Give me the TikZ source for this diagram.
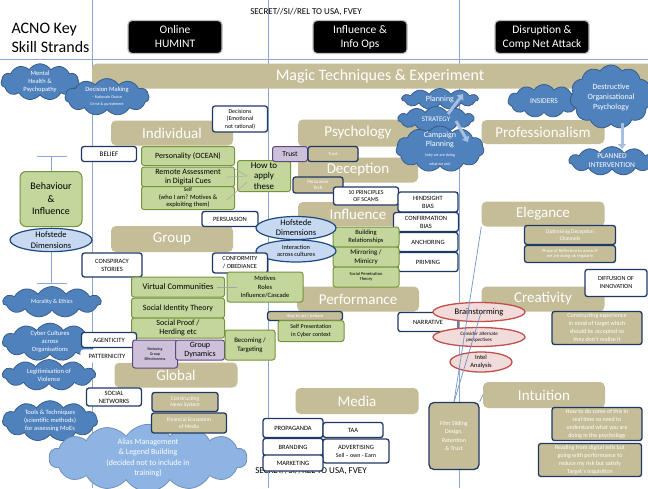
\documentclass[tikz,border=0pt]{standalone}
\usepackage{fontspec}
\setmainfont{Carlito}
\usetikzlibrary{shapes.symbols,shapes.geometric,arrows.meta}

\definecolor{tanfill}{HTML}{C4BD97}
\definecolor{navy}{HTML}{1F3864}
\definecolor{greenfill}{HTML}{C3D69B}
\definecolor{greenedge}{HTML}{77933C}
\definecolor{purplefill}{HTML}{CCC0DA}
\definecolor{purpleedge}{HTML}{5F497A}
\definecolor{cloudblue}{HTML}{4F81BD}
\definecolor{cloudedge}{HTML}{385D8A}
\definecolor{aliasblue}{HTML}{8EB4E3}
\definecolor{ovalfill}{HTML}{C6D9F1}
\definecolor{ovaledge}{HTML}{1F497D}
\definecolor{pinkfill}{HTML}{F2DCDB}
\definecolor{rededge}{HTML}{C0504D}
\definecolor{gridblue}{HTML}{8EA9CF}
\definecolor{linkblue}{HTML}{6F93C8}
\definecolor{arrowblue}{HTML}{A7C0E0}

\newcommand{\fsz}[2]{\fontsize{#1}{#2}\selectfont}

\tikzset{
  tanhead/.style={fill=tanfill, rounded corners=5pt, text=white, font=\fsz{15}{16}, inner sep=0pt, minimum width=122pt, minimum height=25pt},
  blackhead/.style={fill=black, draw=black!25, line width=1.2pt, rounded corners=4pt, text=white, align=center, font=\fsz{11.5}{14}, minimum width=94pt, minimum height=33pt, inner sep=0pt},
  whitebox/.style={draw=navy, line width=1.3pt, fill=white, rounded corners=2.5pt, align=center, font=\fsz{6.5}{8}, inner sep=0pt},
  greenbox/.style={draw=greenedge, line width=1pt, fill=greenfill, rounded corners=2.5pt, align=center, font=\fsz{8}{9.5}, inner sep=0pt},
  purplebox/.style={draw=purpleedge, line width=1pt, fill=purplefill, rounded corners=2.5pt, align=center, inner sep=0pt},
  tanbox/.style={draw=navy, line width=1.3pt, fill=tanfill, text=white, rounded corners=2.5pt, align=center, font=\fsz{5}{6}, inner sep=0pt},
  bluecloud/.style={cloud, cloud puffs=11, cloud puff arc=115, cloud ignores aspect, fill=cloudblue, draw=cloudedge, line width=0.8pt, text=white, align=center, font=\fsz{6.5}{8}, inner sep=0pt},
  blueoval/.style={ellipse, draw=ovaledge, line width=1.2pt, fill=ovalfill, align=center, inner sep=0pt},
  redoval/.style={ellipse, draw=rededge, line width=1.3pt, fill=pinkfill, align=center, inner sep=0pt},
  gridline/.style={draw=gridblue, line width=0.6pt},
  link/.style={draw=gray!70, line width=0.5pt},
  bluelink/.style={draw=linkblue, line width=0.7pt},
  fatarrow/.style={draw=arrowblue, line width=3pt, -{Triangle[length=5pt,width=8pt]}}
}

\begin{document}
\begin{tikzpicture}[x=1pt, y=-1pt]
    \clip (0,0) rectangle (648,488);
    \fill[white] (0,0) rectangle (648,488);

    % Grid
    \draw[gridline] (0,59) -- (648,59);
    \draw[gridline] (92,0) -- (92,488);
    \draw[gridline] (268,0) -- (268,488);
    \draw[gridline] (459,0) -- (459,488);

    \coordinate (beamtop) at (51,156);
    \coordinate (beambot) at (51,283);
    \draw[gridline] (beamtop) -- (beambot);
    \draw[gridline] ([xshift=-14pt]beamtop) -- ([xshift=16pt]beamtop);
    \draw[gridline] ([xshift=-14pt]beambot) -- ([xshift=16pt]beambot);

    % Headings
    \node[anchor=west, align=left, font=\fsz{16}{19}] (title) at (8,38) {ACNO Key\\Skill Strands};
    \node[font=\fsz{9}{10}] (classtop) at (306,12) {SECRET//SI//REL TO USA, FVEY};
    \node[font=\fsz{9}{10}] (classbot) at (311,471) {SECRET//SI//REL TO USA, FVEY};

    \node[blackhead] (humint) at (175,37) {Online\\HUMINT};
    \node[blackhead] (infoops) at (360,37) {Influence \&\\Info Ops};
    \node[blackhead] (cna) at (542,37) {Disruption \&\\Comp Net Attack};

    \node[tanhead, minimum width=576pt, font=\fsz{16}{17}] (magic) at (380,76) {Magic Techniques \& Experiment};

    \node[tanhead] (individual) at (172,133) {Individual};
    \node[tanhead, minimum height=26pt] (group) at (172,239) {Group};
    \node[tanhead, minimum width=123pt] (global) at (176,375) {Global};
    \node[tanhead, minimum width=120pt, minimum height=27pt] (psychology) at (358,133) {Psychology};
    \node[tanhead, minimum width=120pt] (deception) at (358,170) {Deception};
    \node[tanhead, minimum width=120pt, minimum height=24pt] (influence) at (358,214) {Influence};
    \node[tanhead] (performance) at (358,299) {Performance};
    \node[tanhead, minimum width=123pt, minimum height=26pt] (media) at (357,401) {Media};
    \node[tanhead, minimum width=123pt, minimum height=24pt] (professionalism) at (543,132) {Professionalism};
    \node[tanhead, minimum width=123pt] (elegance) at (543,214) {Elegance};
    \node[tanhead, minimum width=123pt] (creativity) at (543,299) {Creativity};
    \node[tanhead, minimum height=26pt] (intuition) at (544,395) {Intuition};

    % Left column
    \node[bluecloud, minimum width=78pt, minimum height=33pt] (mental) at (40,82) {Mental\\Health \&\\Psychopathy};
    \node[bluecloud, minimum width=84pt, minimum height=37pt, font=\fsz{6.5}{7}] (decision) at (107,97) {Decision Making\\\fsz{4}{5}– Rationale Choice\\\fsz{4}{5}Crime \& punishment};
    \node[greenbox, minimum width=62pt, minimum height=55pt, rounded corners=6pt, font=\fsz{10}{12.5}] (behaviour) at (51,199) {Behaviour\\\&\\Influence};
    \node[blueoval, minimum width=82pt, minimum height=23pt, font=\fsz{8.5}{10.5}] (hofleft) at (51,240) {Hofstede\\Dimensions};
    \node[bluecloud, minimum width=98pt, minimum height=31pt, font=\fsz{6}{7}] (morality) at (52,302) {Morality \& Ethics};
    \node[bluecloud, minimum width=95pt, minimum height=34pt] (cyber) at (50,342) {Cyber Cultures\\across\\Organisations};
    \node[bluecloud, minimum width=93pt, minimum height=31pt] (violence) at (49,375) {Legitimisation of\\Violence};
    \node[bluecloud, minimum width=95pt, minimum height=35pt] (tools) at (50,421) {Tools \& Techniques\\(scientific methods)\\for assessing MoEs};
    \node[bluecloud, cloud puffs=14, fill=aliasblue, draw=aliasblue!80!black, minimum width=198pt, minimum height=48pt, font=\fsz{8}{10.5}] (alias) at (148,458) {Alias Management\\\& Legend Building\\(decided not to include in\\training)};

    % Individual
    \node[whitebox, minimum width=55pt, minimum height=15pt, font=\fsz{7}{8}] (belief) at (109,154) {BELIEF};
    \node[whitebox, minimum width=55pt, minimum height=26pt, font=\fsz{6}{7.5}] (decisions) at (240,119) {Decisions\\(Emotional\\not rational)};
    \node[greenbox] (personality) at (188,156) [minimum width=93pt, minimum height=19pt] {Personality (OCEAN)};
    \node[greenbox, minimum width=93pt, minimum height=20pt] (remote) at (188,177) {Remote Assessment\\in Digital Cues};
    \node[greenbox, minimum width=93pt, minimum height=23pt, font=\fsz{6.5}{7.5}] (self) at (188,198) {\fsz{5.5}{6.5}Self\\(who I am? Motives \&\\exploiting them)};
    \node[greenbox, minimum width=53pt, minimum height=31pt, font=\fsz{9}{10.5}] (howto) at (264,176) {How to\\apply\\these};
    \node[whitebox, minimum width=56pt, minimum height=15pt] (persuasion) at (230,219) {PERSUASION};

    % Psychology, deception, influence
    \node[purplebox, minimum width=35pt, minimum height=15pt, font=\fsz{7.5}{8}] (trustp) at (290,154) {Trust};
    \node[tanbox, minimum width=50pt, minimum height=15pt, font=\fsz{4.5}{5}] (trustt) at (333,154) {Trust};
    \node[tanbox, minimum width=50pt, minimum height=16pt] (persuasive) at (318,185) {Persuasive\\Tech};
    \node[whitebox, minimum width=65pt, minimum height=18pt, font=\fsz{6}{7.5}] (scams) at (366,196) {10 PRINCIPLES\\OF SCAMS};
    \node[whitebox, minimum width=60pt, minimum height=20pt] (hindsight) at (428,202) {HINDSIGHT\\BIAS};
    \node[whitebox, minimum width=65pt, minimum height=19pt] (confirmation) at (426,222) {CONFIRMATION\\BIAS};
    \node[whitebox, minimum width=60pt, minimum height=19pt] (anchoring) at (428,242) {ANCHORING};
    \node[whitebox, minimum width=60pt, minimum height=19pt] (priming) at (428,262) {PRIMING};
    \node[greenbox, minimum width=66pt, minimum height=20pt, font=\fsz{6.5}{7.5}] (building) at (366,237) {Building\\Relationships};
    \node[greenbox, minimum width=66pt, minimum height=20pt, font=\fsz{7}{8.5}] (mirroring) at (366,257) {Mirroring /\\Mimicry};
    \node[greenbox, minimum width=66pt, minimum height=20pt, font=\fsz{4.5}{5.5}] (penetration) at (366,277) {Social Penetration\\Theory};
    \node[blueoval, minimum width=80pt, minimum height=23pt, font=\fsz{8.5}{10}] (hofcentre) at (296,228) {Hofstede\\Dimensions};
    \node[blueoval, minimum width=80pt, minimum height=22pt, font=\fsz{6.3}{7.5}] (interaction) at (296,251) {Interaction\\across cultures};

    % Group
    \node[whitebox, minimum width=60pt, minimum height=24pt] (conspiracy) at (112,265) {CONSPIRACY\\STORIES};
    \node[whitebox, minimum width=55pt, minimum height=20pt, font=\fsz{6.3}{8}] (conformity) at (240,263) {CONFORMITY\\/ OBEDIANCE};
    \node[greenbox, minimum width=76pt, minimum height=30pt, font=\fsz{6.5}{8.5}] (motives) at (265,287) {Motives\\Roles\\Influence/Cascade};
    \node[greenbox, minimum width=93pt, minimum height=20pt, font=\fsz{8.5}{9.5}] (virtual) at (178,287) {Virtual Communities};
    \node[greenbox, minimum width=93pt, minimum height=20pt] (identity) at (178,308) {Social Identity Theory};
    \node[greenbox, minimum width=93pt, minimum height=20pt, font=\fsz{8}{9}] (proof) at (178,328) {Social Proof /\\Herding etc};
    \node[whitebox, minimum width=55pt, minimum height=15pt] (agenticity) at (109,340) {AGENTICITY};
    \node[whitebox, draw=white, minimum width=52pt, minimum height=12pt] (patternicity) at (107,356) {PATTERNICITY};
    \node[purplebox, minimum width=45pt, minimum height=28pt, font=\fsz{4}{5}] (reducing) at (155,354) {Reducing\\Group\\Effectiveness};
    \node[purplebox, minimum width=49pt, minimum height=20pt, font=\fsz{8}{9.5}] (dynamics) at (200,350) {Group\\Dynamics};
    \node[greenbox, minimum width=50pt, minimum height=30pt, font=\fsz{6.8}{8.5}] (becoming) at (250,345) {Becoming /\\Targeting};
    \node[tanbox, minimum width=75pt, minimum height=9pt, font=\fsz{4.5}{5}] (actbehave) at (305,316) {How to act / behave};
    \node[greenbox, minimum width=66pt, minimum height=21pt, font=\fsz{6}{7.5}] (selfpres) at (311,331) {Self Presentation\\in Cyber context};

    % Global
    \node[whitebox, minimum width=55pt, minimum height=18pt] (networks) at (114,397) {SOCIAL\\NETWORKS};
    \node[tanbox, minimum width=66pt, minimum height=19pt, font=\fsz{5.5}{6.5}] (news) at (185,402) {Constructing\\News System};
    \node[tanbox, minimum width=75pt, minimum height=20pt, font=\fsz{5.5}{6.5}] (ecosystem) at (189,423) {Financial Ecosystem\\of Media};

    % Media
    \node[whitebox, minimum width=60pt, minimum height=19pt] (propaganda) at (293,428) {PROPAGANDA};
    \node[whitebox, minimum width=60pt, minimum height=15pt] (taa) at (353,430) {TAA};
    \node[whitebox, minimum width=60pt, minimum height=17pt] (branding) at (293,447) {BRANDING};
    \node[whitebox, minimum width=66pt, minimum height=24pt] (advertising) at (356,451) {ADVERTISING\\\fsz{6}{7}Sell – own - Earn};
    \node[whitebox, minimum width=60pt, minimum height=16pt] (marketing) at (293,463) {MARKETING};

    % Disruption column
    \node[bluecloud, minimum width=76pt, minimum height=21pt, font=\fsz{8}{9}] (planning) at (440,99) {Planning};
    \node[bluecloud, minimum width=76pt, minimum height=25pt, font=\fsz{7}{8}] (strategy) at (436,119) {STRATEGY};
    \node[bluecloud, inner sep=-5pt, minimum width=88pt, minimum height=46pt, font=\fsz{8}{9.5}] (campaign) at (440,149) {Campaign\\Planning\\\fsz{4}{5}(why we are doing\\\fsz{4}{5}what we are)};
    \node[bluecloud, minimum width=72pt, minimum height=33pt, font=\fsz{7.5}{8.5}] (insiders) at (544,101) {INSIDERS};
    \node[bluecloud, minimum width=82pt, minimum height=64pt, font=\fsz{8}{10}] (destructive) at (611,97) {Destructive\\Organisational\\Psychology};
    \node[bluecloud, minimum width=86pt, minimum height=28pt, font=\fsz{7.5}{9}] (planned) at (612,161) {PLANNED\\INTERVENTION};

    \node[tanbox, minimum width=91pt, minimum height=19pt, font=\fsz{5.5}{6.5}] (optimising) at (570,235) {Optimising Deception\\Channels};
    \node[tanbox, minimum width=91pt, minimum height=17pt, font=\fsz{4.5}{5.5}] (reflection) at (570,254) {Phase of Reflection to assess if\\we are doing ok regularly};
    \node[whitebox, minimum width=62pt, minimum height=27pt, font=\fsz{6.2}{8}] (diffusion) at (616,283) {DIFFUSION OF\\INNOVATION};
    \node[whitebox, minimum width=60pt, minimum height=19pt] (narrative) at (428,322) {NARRATIVE};
    \node[tanbox, minimum width=90pt, minimum height=33pt, font=\fsz{6}{8}] (constructing) at (597,328) {Constructing experience\\in mind of target which\\should be accepted so\\they don't realise it};
    \node[tanbox, minimum width=90pt, minimum height=33pt, font=\fsz{6}{8}] (realtime) at (597,424) {How to do some of this in\\real time so need to\\understand what you are\\doing in the psychology};
    \node[tanbox, minimum width=103pt, minimum height=33pt, font=\fsz{6}{8}] (reading) at (590,460) {Reading from digital tells but\\going with performance to\\reduce my risk but satisfy\\Target's inquisition};
    \node[tanbox, minimum width=50pt, minimum height=67pt, rounded corners=5pt, font=\fsz{6}{8.5}] (film) at (454,436) {Film Sliding\\Design,\\Retention\\\& Trust};

    \node[redoval, minimum width=92pt, minimum height=19pt, font=\fsz{8.5}{9}] (brainstorm) at (479,312) {Brainstorming};
    \node[redoval, minimum width=92pt, minimum height=19pt, font=\fsz{5}{6}] (alternate) at (479,337) {Consider alternate\\perspectives};
    \node[redoval, minimum width=62pt, minimum height=20pt, font=\fsz{6.5}{8}] (intel) at (481,362) {Intel\\Analysis};

    % Draw the edges
    \draw[link] ([xshift=-5pt]personality.south east) -- ([xshift=10pt]howto.west);
    \draw[link] ([xshift=-8pt]remote.east) -- ([xshift=10pt]howto.west);
    \draw[link] ([xshift=-8pt,yshift=-2pt]self.east) -- ([xshift=10pt,yshift=-6pt]howto.west);
    \draw[link] ([xshift=-8pt]virtual.east) -- ([xshift=10pt]motives.west);

    \draw[bluelink] (film.north) -- (elegance.south west);
    \draw[bluelink] (film.north) -- (creativity.south west);
    \draw[bluelink] (film.north east) -- (intuition.west);

    \coordinate (upstart) at (448,114);
    \coordinate (upend) at (463,94);
    \coordinate (downstart) at (456,121);
    \coordinate (downend) at (468,142);
    \coordinate (planstart) at (622,123);
    \coordinate (planend) at (622,149);
    \draw[fatarrow] (upstart) -- (upend);
    \draw[fatarrow] (downstart) -- (downend);
    \draw[fatarrow] (planstart) -- (planend);
\end{tikzpicture}
\end{document}
